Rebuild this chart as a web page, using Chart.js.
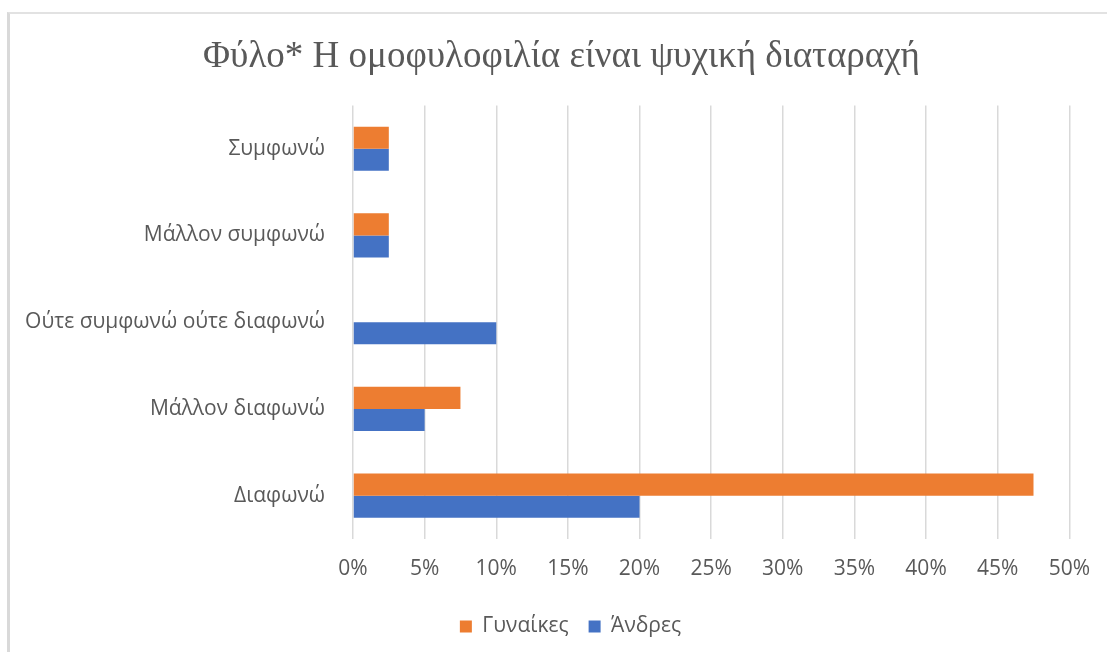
<!DOCTYPE html>
<html lang="el">
<head>
<meta charset="utf-8">
<title>Φύλο* Η ομοφυλοφιλία είναι ψυχική διαταραχή</title>
<script src="https://cdn.jsdelivr.net/npm/chart.js@4/dist/chart.umd.min.js"></script>
<style>
  html, body { margin: 0; padding: 0; background: #fff; }
  body { width: 1107px; height: 652px; overflow: hidden; position: relative; }
  .frame {
    position: absolute; left: 7px; top: 12px; width: 1100px; height: 640px;
    border-left: 3px solid #d9d9d9; border-top: 2px solid #e2e2e2;
  }
  .frame canvas { display: block; }
</style>
</head>
<body>
<div class="frame"><canvas id="chart" width="1097" height="638"></canvas></div>
<script>
// Data
const categories = ['Συμφωνώ', 'Μάλλον συμφωνώ', 'Ούτε συμφωνώ ούτε διαφωνώ', 'Μάλλον διαφωνώ', 'Διαφωνώ'];
const women = [2.5, 2.5, 0, 7.5, 47.5];
const men = [2.5, 2.5, 10, 5, 20];
const seriesNames = ['Γυναίκες', 'Άνδρες'];
const xTicks = [0, 5, 10, 15, 20, 25, 30, 35, 40, 45, 50];

const textColor = '#595959';
const gridColor = '#d9d9d9';
const sans = '"Open Sans", "Noto Sans", sans-serif';

// nudge the legend and title a bit right, like the original
const boxShift = {
  id: 'boxShift',
  afterLayout(chart) {
    const lg = chart.legend;
    if (lg) { lg.left += 26; lg.right += 26; }
    const tt = chart.titleBlock;
    if (tt) { tt.left += 17; tt.right += 17; }
  }
};

new Chart(document.getElementById('chart'), {
  type: 'bar',
  data: {
    labels: categories,
    datasets: [
      { label: seriesNames[0], data: women, backgroundColor: '#ed7d31', borderWidth: 0 },
      { label: seriesNames[1], data: men, backgroundColor: '#4472c4', borderWidth: 0 },
    ]
  },
  options: {
    indexAxis: 'y',
    responsive: false,
    animation: false,
    datasets: { bar: { categoryPercentage: 0.51, barPercentage: 1.0 } },
    layout: { padding: { left: 0, right: 28, top: 0, bottom: 5 } },
    plugins: {
      title: {
        display: true,
        text: 'Φύλο* Η ομοφυλοφιλία είναι ψυχική διαταραχή',
        color: textColor,
        font: { family: '"Liberation Serif", "DejaVu Serif", serif', size: 37, weight: 'normal' },
        padding: { top: 21, bottom: 26 },
      },
      legend: {
        position: 'bottom',
        labels: {
          color: textColor,
          font: { family: sans, size: 21 },
          boxWidth: 12, boxHeight: 12, padding: 20,
        }
      },
      tooltip: { enabled: false },
    },
    scales: {
      x: {
        min: 0, max: 50,
        afterBuildTicks(scale) { scale.ticks = xTicks.map(v => ({ value: v })); },
        afterFit(scale) { scale.height = 57; },
        grid: { color: gridColor, lineWidth: 1.5, drawTicks: false },
        border: { display: false },
        ticks: {
          color: textColor, padding: 17,
          font: { family: sans, size: 21 },
          callback: v => v + '%',
        }
      },
      y: {
        afterFit(scale) { scale.width = 343; },
        grid: { display: false },
        border: { display: false },
        ticks: {
          color: textColor, padding: 20,
          font: { family: sans, size: 21 },
        }
      }
    }
  },
  plugins: [boxShift]
});
</script>
</body>
</html>
